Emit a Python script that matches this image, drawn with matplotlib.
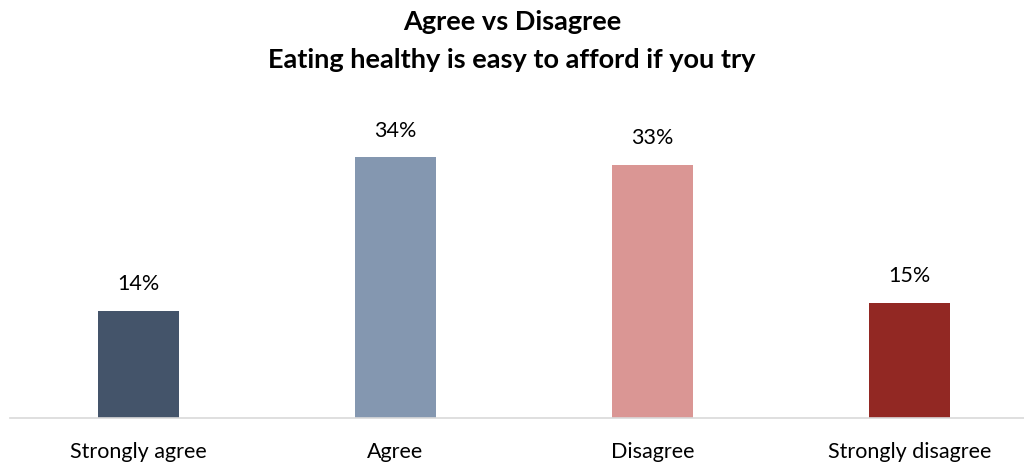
import matplotlib.pyplot as plt

plt.rcParams['font.family'] = ['Lato', 'DejaVu Sans']

categories = ['Strongly agree', 'Agree', 'Disagree', 'Strongly disagree']
shares = [14, 34, 33, 15]
labels = ['14%', '34%', '33%', '15%']
colors = ['#44546A', '#8497B0', '#DA9694', '#922823']

fig = plt.figure(figsize=(10.24, 4.62), dpi=100)
# axes run a little past the right edge, like the original layout
ax = fig.add_axes([10/1024, 44/462, 1028/1024, 328/462])

x = range(len(categories))
bars = ax.bar(x, shares, width=0.315, color=colors, zorder=2)
for b, lab in zip(bars, labels):
    ax.annotate(lab, (b.get_x() + b.get_width()/2, b.get_height()),
                xytext=(0, 12), textcoords='offset points',
                ha='center', va='bottom', fontsize=15.5, color='#000000')

ax.set_xlim(-0.5, 3.5)
ax.set_ylim(0, 42.8)
ax.set_yticks([])
ax.set_xticks(list(x))
ax.set_xticklabels(categories, fontsize=15.5)
ax.tick_params(axis='x', length=0, pad=17)
for s in ['top', 'right', 'left']:
    ax.spines[s].set_visible(False)
ax.spines['bottom'].set_color('#D9D9D9')
ax.spines['bottom'].set_linewidth(1.2)

fig.text(0.5, 1 - 22/462, 'Agree vs Disagree',
         ha='center', va='center', fontsize=19.5, fontweight='bold')
fig.text(0.5, 1 - 60/462, 'Eating healthy is easy to afford if you try',
         ha='center', va='center', fontsize=19.5, fontweight='bold')

fig.savefig('out.png', dpi=100)
